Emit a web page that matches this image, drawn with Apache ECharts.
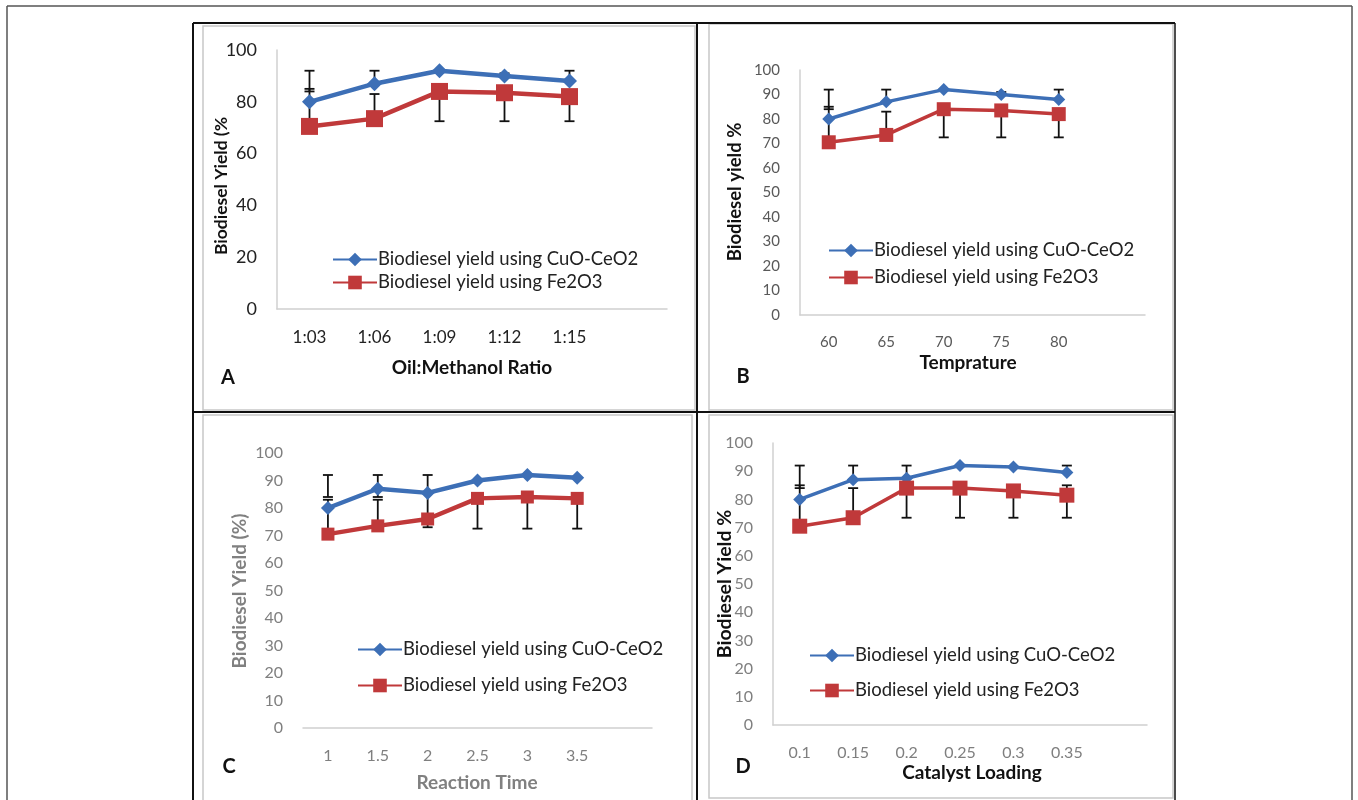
<!DOCTYPE html>
<html>
<head>
<meta charset="utf-8">
<script src="https://cdn.jsdelivr.net/npm/echarts@6/dist/echarts.min.js"></script>
<style>
  html, body { margin: 0; padding: 0; background: #fff; }
  #chart { width: 1358px; height: 800px; }
</style>
</head>
<body>
<div id="chart"></div>
<script>
// legend names
const nameCuO = 'Biodiesel yield using CuO-CeO2'
const nameFe = 'Biodiesel yield using Fe2O3'

// panel A: oil:methanol ratio
const ratioLabels = ['1:03', '1:06', '1:09', '1:12', '1:15', '']
const ratioCuO = [80, 87, 92, 90, 88]
const ratioFe = [70.5, 73.5, 84, 83.5, 82]
const ratioCuOErr = [[84, 92], [87, 92], [92, 92], [90, 91], [88, 92]]
const ratioFeErr = [[70.5, 85], [73.5, 83], [72.5, 84], [72.5, 83.5], [72.5, 82]]

// panel B: temperature
const tempLabels = ['60', '65', '70', '75', '80', '']
const tempCuO = [80, 87, 92, 90, 88]
const tempFe = [70.5, 73.5, 84, 83.5, 82]
const tempCuOErr = [[84, 92], [87, 92], [92, 92], [90, 91], [88, 92]]
const tempFeErr = [[70.5, 85], [73.5, 83], [72.5, 84], [72.5, 83.5], [72.5, 82]]

// panel C: reaction time
const timeLabels = ['1', '1.5', '2', '2.5', '3', '3.5', '']
const timeCuO = [80, 87, 85.5, 90, 92, 91]
const timeFe = [70.5, 73.5, 76, 83.5, 84, 83.5]
const timeCuOErr = [[84, 92], [84, 92], [85.5, 92], [90, 90], [92, 92], [91, 91]]
const timeFeErr = [[70.5, 83], [73.5, 83], [73, 85.5], [72.5, 83.5], [72.5, 84], [72.5, 83.5]]

// panel D: catalyst loading
const loadLabels = ['0.1', '0.15', '0.2', '0.25', '0.3', '0.35', '']
const loadCuO = [80, 87, 87.5, 92, 91.5, 89.5]
const loadFe = [70.5, 73.5, 84, 84, 83, 81.5]
const loadCuOErr = [[84, 92], [87, 92], [87.5, 92], [92, 92], [91.5, 91.5], [89.5, 92]]
const loadFeErr = [[70.5, 85], [73.5, 84], [73.5, 84], [73.5, 84], [73.5, 83], [73.5, 85]]

const blue = '#3d6fb6'
const red = '#c0393a'
const font = 'Lato'

let myChart = echarts.init(document.getElementById('chart'))

function errItem(params, api) {
    let x = api.value(0)
    let p1 = api.coord([x, api.value(1)])
    let p2 = api.coord([x, api.value(2)])
    let w = 5
    let st = { stroke: '#111', lineWidth: 1.8 }
    return {
        type: 'group',
        children: [
            { type: 'line', shape: { x1: p1[0], y1: p1[1], x2: p2[0], y2: p2[1] }, style: st },
            { type: 'line', shape: { x1: p1[0] - w, y1: p1[1], x2: p1[0] + w, y2: p1[1] }, style: st },
            { type: 'line', shape: { x1: p2[0] - w, y1: p2[1], x2: p2[0] + w, y2: p2[1] }, style: st }
        ]
    }
}

function errSeries(idx, arr) {
    return {
        type: 'custom',
        xAxisIndex: idx,
        yAxisIndex: idx,
        z: 1,
        silent: true,
        renderItem: errItem,
        encode: { x: 0, y: [1, 2] },
        data: arr.map((d, i) => [i, d[0], d[1]])
    }
}

function lineSeries(idx, name, data, color, symbol, size, width) {
    return {
        name: name,
        type: 'line',
        xAxisIndex: idx,
        yAxisIndex: idx,
        z: 3,
        data: data,
        symbol: symbol,
        symbolSize: size,
        lineStyle: { color: color, width: width },
        itemStyle: { color: color }
    }
}

function vText(x, y, text, color, size) {
    return {
        type: 'text', x: x, y: y, rotation: Math.PI / 2,
        style: { text: text, font: 'bold ' + size + 'px ' + font, fill: color, align: 'center', verticalAlign: 'middle' }
    }
}

function hText(x, y, text, color, size) {
    return {
        type: 'text', x: x, y: y,
        style: { text: text, font: 'bold ' + size + 'px ' + font, fill: color, align: 'center', verticalAlign: 'middle' }
    }
}

function frameLine(x1, y1, x2, y2, color, w) {
    return { type: 'line', shape: { x1: x1, y1: y1, x2: x2, y2: y2 }, style: { stroke: color, lineWidth: w }, silent: true }
}

function frameRect(x, y, w, h) {
    return { type: 'rect', shape: { x: x, y: y, width: w, height: h }, style: { fill: 'none', stroke: '#c8c8c8', lineWidth: 1.5 }, silent: true }
}

function legendAt(left, top, gap) {
    return {
        data: [nameCuO, nameFe],
        orient: 'vertical',
        left: left,
        top: top,
        itemWidth: 44,
        itemHeight: 17,
        itemGap: gap,
        textStyle: { fontFamily: font, fontSize: 18.5, color: '#222', padding: [0, 0, 0, -4] }
    }
}

function xAx(idx, labels, color, size) {
    return {
        type: 'category',
        gridIndex: idx,
        data: labels,
        boundaryGap: true,
        axisTick: { show: false },
        axisLine: { lineStyle: { color: '#d0d0d0', width: 1.5 } },
        axisLabel: { color: color, fontFamily: font, fontSize: size, margin: 20, interval: 0 }
    }
}

function yAx(idx, step, color, size, showLine) {
    return {
        type: 'value',
        gridIndex: idx,
        min: 0,
        max: 100,
        interval: step,
        splitLine: { show: false },
        axisTick: { show: false },
        axisLine: { show: showLine, lineStyle: { color: '#d0d0d0', width: 1.5 } },
        axisLabel: { color: color, fontFamily: font, fontSize: size, margin: 20 }
    }
}

myChart.setOption({
    animation: false,
    backgroundColor: '#fff',
    grid: [
        { left: 277, top: 50, width: 390, height: 259 },
        { left: 800, top: 70, width: 345, height: 245 },
        { left: 303, top: 453, width: 349, height: 275 },
        { left: 773, top: 443, width: 374, height: 282 }
    ],
    xAxis: [
        xAx(0, ratioLabels, '#222', 17),
        xAx(1, tempLabels, '#595959', 15),
        xAx(2, timeLabels, '#7f7f7f', 16),
        xAx(3, loadLabels, '#7f7f7f', 16)
    ],
    yAxis: [
        yAx(0, 20, '#222', 18, true),
        yAx(1, 10, '#595959', 15, true),
        yAx(2, 10, '#7f7f7f', 16, false),
        yAx(3, 10, '#7f7f7f', 16, true)
    ],
    legend: [
        legendAt(327, 245, 4),
        legendAt(823, 236, 8),
        legendAt(352, 635, 17),
        legendAt(804, 641, 16)
    ],
    graphic: [
        // outer page frame
        frameLine(7, 6, 1352, 6, '#555', 1.5),
        frameLine(7, 6, 7, 800, '#555', 1.5),
        frameLine(1352, 6, 1352, 800, '#555', 1.5),
        // panel frames
        frameRect(203, 26, 492, 384),
        frameRect(709, 24, 464, 386),
        frameRect(203, 415, 489, 390),
        frameRect(709, 415, 464, 383),
        frameLine(193, 23, 1175, 23, '#111', 2),
        frameLine(193, 23, 193, 800, '#111', 2),
        frameLine(1175, 23, 1175, 800, '#111', 1.5),
        frameLine(193, 412, 1175, 412, '#111', 2),
        frameLine(697, 23, 697, 800, '#111', 2),
        // axis titles and panel letters
        vText(221, 186, 'Biodiesel Yield (%', '#111', 17.5),
        hText(472, 368, 'Oil:Methanol Ratio', '#111', 19),
        hText(228, 378, 'A', '#111', 20),
        vText(735, 192, 'Biodiesel yield %', '#111', 18.5),
        hText(968, 363, 'Temprature', '#111', 19),
        hText(743, 377, 'B', '#111', 20),
        vText(240, 591, 'Biodiesel Yield (%)', '#808080', 19),
        hText(477, 783, 'Reaction Time', '#808080', 19),
        hText(229, 767, 'C', '#111', 20),
        vText(725, 584, 'Biodiesel Yield %', '#111', 19.5),
        hText(972, 773, 'Catalyst Loading', '#111', 19),
        hText(743, 767, 'D', '#111', 20)
    ],
    series: [
        errSeries(0, ratioCuOErr),
        errSeries(0, ratioFeErr),
        lineSeries(0, nameCuO, ratioCuO, blue, 'diamond', 15, 4.5),
        lineSeries(0, nameFe, ratioFe, red, 'rect', 17, 4.5),

        errSeries(1, tempCuOErr),
        errSeries(1, tempFeErr),
        lineSeries(1, nameCuO, tempCuO, blue, 'diamond', 13, 3.5),
        lineSeries(1, nameFe, tempFe, red, 'rect', 14, 3.5),

        errSeries(2, timeCuOErr),
        errSeries(2, timeFeErr),
        lineSeries(2, nameCuO, timeCuO, blue, 'diamond', 14, 4.5),
        lineSeries(2, nameFe, timeFe, red, 'rect', 13, 4.5),

        errSeries(3, loadCuOErr),
        errSeries(3, loadFeErr),
        lineSeries(3, nameCuO, loadCuO, blue, 'diamond', 13, 3.5),
        lineSeries(3, nameFe, loadFe, red, 'rect', 15, 3.5)
    ]
})
</script>
</body>
</html>
